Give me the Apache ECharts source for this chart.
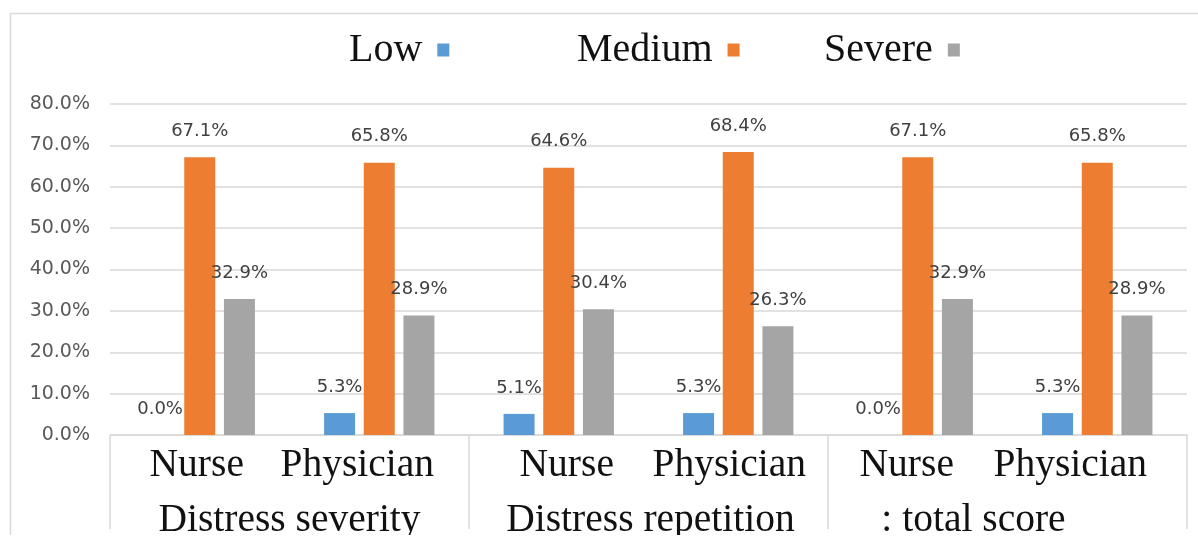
<!DOCTYPE html>
<html><head><meta charset="utf-8">
<script src="https://cdn.jsdelivr.net/npm/echarts@6/dist/echarts.min.js"></script>
<style>html,body{margin:0;padding:0;background:#fff}#c{width:1198px;height:541px}</style>
</head><body><div id="c"></div>
<script>
// ---- data ----
const roles = ['Nurse', 'Physician', 'Nurse', 'Physician', 'Nurse', 'Physician'];
const groups = ['Distress severity', 'Distress repetition', ': total score'];
const seriesNames = ['Low', 'Medium', 'Severe'];
const low = [0.0, 5.3, 5.1, 5.3, 0.0, 5.3];
const medium = [67.1, 65.8, 64.6, 68.4, 67.1, 65.8];
const severe = [32.9, 28.9, 30.4, 26.3, 32.9, 28.9];
const yTicks = [0, 10, 20, 30, 40, 50, 60, 70, 80];

// ---- style ----
const colors = ['#5B9BD5', '#ED7D31', '#A5A5A5'];
const serif = '"Liberation Serif", "Times New Roman", serif';
const sans = '"DejaVu Sans", sans-serif';
const gridCol = '#d9d9d9';
const roleShift = [-3, -22, 8, -9, -11, -27];
const groupShift = [0, 2, -34];
const legendLeft = [344, 572, 819];

function shiftPad(s) { return s < 0 ? [0, -2 * s, 0, 0] : [0, 0, 0, 2 * s]; }

const chart = echarts.init(document.getElementById('c'));
const vals = [low, medium, severe];
chart.setOption({
  animation: false,
  backgroundColor: '#fff',
  graphic: [{
    type: 'rect', z: -10, silent: true,
    shape: { x: 10.5, y: 13.5, width: 1300, height: 600 },
    style: { fill: 'none', stroke: gridCol, lineWidth: 1.5 }
  }, {
    type: 'rect', z: 100, silent: true,
    shape: { x: 0, y: 535, width: 1198, height: 10 },
    style: { fill: '#fff' }
  }],
  legend: seriesNames.map((n, i) => ({
    data: [n], left: legendLeft[i], top: 25, align: 'right', icon: 'rect',
    itemWidth: 12, itemHeight: 13, formatter: name => name + ' ',
    textStyle: { fontFamily: serif, fontSize: 40, color: '#111' }
  })),
  grid: { left: 110, right: 11, top: 104, bottom: 100 },
  xAxis: [{
    type: 'category', position: 'bottom', offset: 0,
    data: roles.map((r, i) => ({ value: r, textStyle: { padding: shiftPad(roleShift[i]) } })),
    axisLine: { lineStyle: { color: gridCol, width: 1.5 } },
    axisTick: { show: false },
    axisLabel: { interval: 0, margin: 11, fontFamily: serif, fontSize: 39.5, color: '#111' }
  }, {
    type: 'category', position: 'bottom', offset: 0,
    data: groups.map((g, i) => ({ value: g, textStyle: { padding: shiftPad(groupShift[i]) } })),
    axisLine: { show: false },
    axisTick: { show: true, length: 94, interval: 0, lineStyle: { color: gridCol, width: 1.5 } },
    axisLabel: { interval: 0, margin: 66, fontFamily: serif, fontSize: 39.5, color: '#111' }
  }],
  yAxis: {
    type: 'value', min: yTicks[0], max: yTicks[yTicks.length - 1], interval: yTicks[1] - yTicks[0],
    axisLine: { show: false }, axisTick: { show: false },
    splitLine: { lineStyle: { color: gridCol, width: 1.5 } },
    axisLabel: { margin: 20, fontFamily: sans, fontSize: 19, color: '#595959',
      formatter: v => v.toFixed(1) + '%' }
  },
  series: seriesNames.map((n, i) => ({
    name: n, type: 'bar', xAxisIndex: 0, data: vals[i],
    barWidth: 31, barGap: '28%',
    itemStyle: { color: colors[i] },
    label: { show: true, position: 'top', distance: 17, fontFamily: sans, fontSize: 18, color: '#404040',
      formatter: p => p.value.toFixed(1) + '%' }
  }))
});
</script></body></html>
